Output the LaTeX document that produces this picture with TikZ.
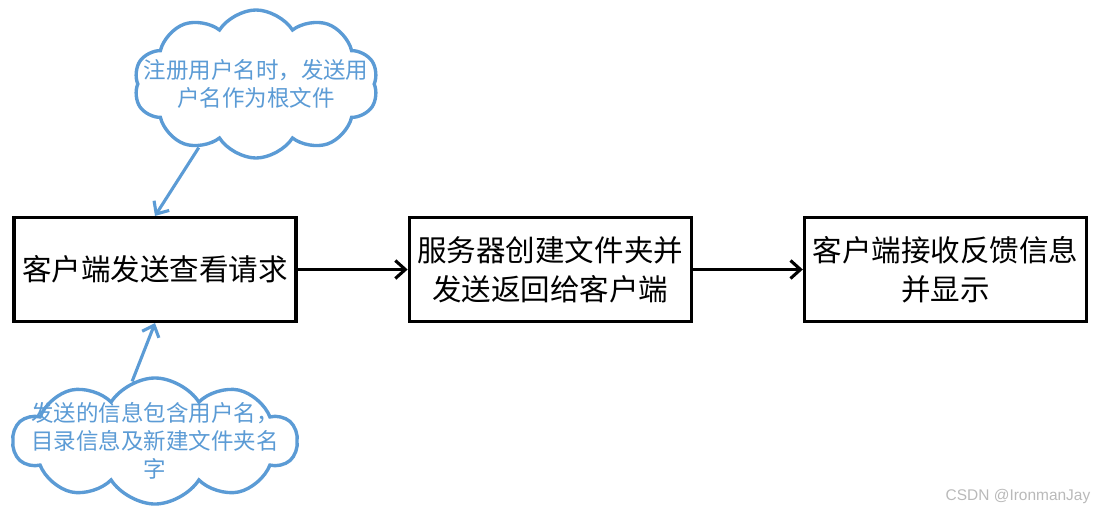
\documentclass[tikz,border=0pt]{standalone}
\usepackage{fontspec}
\setmainfont{Noto Sans CJK SC}
\newfontfamily\latinfont{Liberation Sans}
\usepackage{xcolor}
\usepackage{tikz}
\usetikzlibrary{shapes.symbols, arrows.meta, positioning}
\definecolor{cloudblue}{HTML}{5B9BD5}

\begin{document}
\begin{tikzpicture}[
  x=0.025cm, y=-0.025cm,
  node distance=1.5cm and 2.75cm,
  process/.style={rectangle, draw, line width=2.2pt, minimum width=7.05cm, minimum height=2.6cm, align=center, font=\fontsize{21}{28}\selectfont},
  note/.style={cloud, cloud puffs=10, cloud puff arc=115, draw=cloudblue, line width=2.4pt, fill=white},
  notetext/.style={text=cloudblue, align=center, font=\fontsize{16}{20}\selectfont},
  arrow/.style={-{Straight Barb[length=2.5mm,width=4.5mm]}, line width=2.2pt},
  notearrow/.style={arrow, draw=cloudblue}
]
\useasboundingbox (0,0) rectangle (1103,514);

\node[process] (req) at (155,269.5) {客户端发送查看请求};
\node[process, right=of req] (srv) {服务器创建文件夹并\\发送返回给客户端};
\node[process, right=of srv] (recv) {客户端接收反馈信息\\并显示};

\node[note, minimum width=6.1cm, minimum height=3.7cm,
  label={[notetext]center:注册用户名时，发送用\\户名作为根文件}] (reg) at (256,84) {};
\node[note, minimum width=7.1cm, minimum height=3.15cm,
  label={[notetext]center:发送的信息包含用户名，\\目录信息及新建文件夹名\\字}] (info) at (155,441) {};

\draw[arrow] (req) -- (srv);
\draw[arrow] (srv) -- (recv);
\draw[notearrow] (reg.228) -- (req.north);
\draw[notearrow] (info.111) -- (req.south);

\node[text=gray!55, font=\latinfont\fontsize{11}{13}\selectfont] (mark) at (1018,496) {CSDN @IronmanJay};

\end{tikzpicture}
\end{document}
